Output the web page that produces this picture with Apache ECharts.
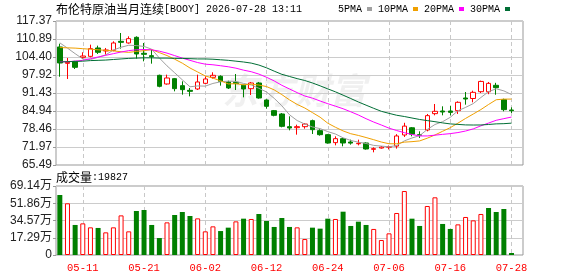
<!DOCTYPE html>
<html>
<head>
<meta charset="utf-8">
<script src="https://cdn.jsdelivr.net/npm/echarts@6/dist/echarts.min.js"></script>
<style>
html, body { margin: 0; padding: 0; background: #fff; }
#chart { width: 578px; height: 276px; }
</style>
</head>
<body>
<div id="chart"></div>
<script>
// 交易日
const dates = [
    '05-06','05-07','05-08','05-11','05-12','05-13','05-14','05-15','05-18','05-19',
    '05-20','05-21','05-22','05-25','05-26','05-27','05-28','05-29','06-01','06-02',
    '06-03','06-04','06-05','06-08','06-09','06-10','06-11','06-12','06-15','06-16',
    '06-17','06-18','06-19','06-22','06-23','06-24','06-25','06-26','06-29','06-30',
    '07-01','07-02','07-03','07-06','07-07','07-08','07-09','07-10','07-13','07-14',
    '07-15','07-16','07-17','07-20','07-21','07-22','07-23','07-24','07-27','07-28'
];
const labelDates = ['05-11','05-21','06-02','06-12','06-24','07-06','07-16','07-28'];

const opens = [
    108.01,102.12,102.84,104.28,104.64,107.65,106.57,106.81,110.05,109.45,
    111.49,105.73,104.88,97.80,94.68,96.60,94.08,92.39,92.88,94.92,
    97.08,97.44,95.40,95.28,94.20,92.99,95.04,88.91,85.07,83.87,
    79.30,78.94,79.30,81.47,77.86,76.42,73.54,74.98,73.78,73.15,
    73.42,71.14,71.60,71.90,72.30,76.30,78.90,76.42,78.10,83.99,
    84.95,84.95,85.07,89.63,89.45,91.90,91.86,94.20,89.03,85.31
];
const closes = [
    102.24,102.48,100.68,104.76,107.41,106.09,106.93,109.45,109.69,111.01,
    105.49,105.37,104.52,93.84,96.84,92.99,92.64,92.03,95.40,96.48,
    97.80,95.64,93.24,94.80,92.88,95.04,89.63,86.63,83.39,79.42,
    78.82,79.30,80.26,78.22,76.42,73.42,74.98,73.42,73.38,73.30,
    71.26,71.38,71.95,72.10,75.95,79.50,76.60,76.20,83.27,84.83,
    84.59,84.45,88.07,89.27,91.67,95.60,94.90,93.35,85.43,85.07
];
const lows = [
    97.30,96.48,100.08,103.68,104.28,105.49,105.25,106.45,107.41,109.21,
    103.80,102.84,102.00,93.48,94.44,92.03,90.83,90.23,92.51,94.68,
    96.60,94.08,92.88,92.51,89.87,90.71,89.39,85.79,83.03,79.06,
    77.98,76.42,78.58,76.66,76.06,73.18,72.58,72.22,72.82,72.58,
    71.02,70.06,71.38,71.10,71.40,75.60,75.82,75.22,77.62,83.39,
    83.39,83.39,83.87,87.23,88.07,91.43,91.00,90.80,84.83,84.23
];
const highs = [
    109.20,104.05,103.00,106.09,108.85,108.49,107.65,110.05,113.05,111.85,
    111.85,109.45,107.05,98.04,98.04,96.84,95.64,93.24,98.04,97.44,
    98.88,97.80,95.88,98.28,94.44,95.40,95.40,89.15,85.31,84.23,
    83.03,80.02,80.62,81.83,78.34,76.66,75.82,75.22,74.62,74.62,
    73.66,71.86,72.34,72.50,76.60,80.70,79.18,77.62,83.87,87.47,
    86.63,86.75,88.43,91.79,92.27,95.88,95.40,95.10,89.39,86.27
];

// 成交量
const volumes = [
    601000,518000,301000,317000,277000,271000,227000,277000,397000,237000,
    441000,451000,301000,170000,327000,401000,431000,391000,367000,237000,
    287000,240000,274000,337000,364000,361000,411000,341000,281000,371000,
    281000,277000,160000,274000,264000,364000,361000,434000,291000,334000,
    301000,261000,150000,217000,421000,641000,364000,291000,491000,578000,
    311000,261000,307000,381000,347000,411000,471000,431000,461000,19827
];

// 均线
const ma5 = [
    109.50,107.60,105.60,103.70,103.51,104.28,105.17,106.93,107.91,108.63,
    108.51,108.20,107.22,104.05,101.21,98.71,96.17,93.67,93.98,93.91,
    94.87,95.47,95.71,95.59,94.87,94.32,93.12,91.80,89.51,86.82,
    83.58,81.51,80.24,79.20,78.60,77.52,76.66,75.29,74.33,73.70,
    73.25,72.55,72.30,72.03,72.53,74.18,75.22,76.07,78.30,80.08,
    81.10,82.67,85.04,86.24,87.61,89.81,91.90,92.96,92.19,90.87
];
const ma10 = [
    107.80,107.70,107.60,107.40,107.20,107.00,106.80,106.60,106.30,106.07,
    106.40,106.69,107.07,105.98,104.92,103.61,102.18,100.44,99.01,97.56,
    96.79,95.82,94.69,94.79,94.39,94.60,94.29,93.75,92.55,90.85,
    88.95,87.32,86.02,84.36,82.71,80.55,79.09,77.77,76.76,76.14,
    75.39,74.60,73.77,73.15,73.13,73.73,73.90,74.17,75.15,76.30,
    77.64,78.94,80.56,82.27,83.85,85.46,87.29,89.00,89.22,89.24
];
const ma20 = [
    102.70,102.70,102.90,103.20,103.80,104.40,105.00,105.60,106.20,106.70,
    107.00,107.10,107.00,106.50,105.80,104.90,104.00,103.20,102.40,101.82,
    101.60,101.25,100.88,100.38,99.66,99.10,98.24,97.10,95.78,94.20,
    92.87,91.57,90.35,89.57,88.55,87.57,86.69,85.76,84.66,83.50,
    82.17,80.96,79.89,78.76,77.91,77.13,76.48,75.96,75.96,76.24,
    76.53,76.79,77.18,77.73,78.50,79.60,80.60,81.60,82.19,82.77
];
const ma30 = [
    102.60,102.70,102.80,102.90,103.10,103.20,103.30,103.50,103.70,103.90,
    104.00,104.10,104.10,104.00,104.00,103.90,103.90,103.80,103.70,103.70,
    103.60,103.40,103.20,102.90,102.60,102.20,101.50,100.50,99.30,98.16,
    97.38,96.61,95.93,95.04,94.01,92.92,91.85,90.65,89.44,88.19,
    87.05,85.91,84.83,84.10,83.41,82.96,82.42,81.89,81.49,81.10,
    80.66,80.29,80.12,79.93,79.89,79.91,80.09,80.31,80.38,80.57
];

const priceTicks = ['65.49','71.97','78.46','84.94','91.43','97.92','104.40','110.89','117.37'];
const volTicks = ['0','17.29万','34.57万','51.86万','69.14万'];

const RED = '#ff0000', GREEN = '#008000';
const priceMin = 65.49, priceMax = 117.37, priceStep = 6.485;
const volMax = 691400, volStep = 172850;

const kData = opens.map((o, i) => [o, closes[i], lows[i], highs[i]]);
const volData = volumes.map((v, i) => {
    const up = i === 0 ? closes[0] >= opens[0] : closes[i] >= closes[i - 1];
    return {
        value: v,
        itemStyle: up ? { color: '#fff', borderColor: RED, borderWidth: 1 } : { color: GREEN }
    };
});

const isLabelDay = (i) => labelDates.indexOf(dates[i]) >= 0;
const monoFont = "'Liberation Mono', monospace";
const numFont = "'Liberation Sans', 'Noto Sans CJK SC', sans-serif";
const cjkFont = "'Noto Sans CJK SC'";

const dom = document.getElementById('chart');
const myChart = echarts.init(dom, null, { renderer: 'canvas' });

function xAxisOf(gridIndex, showLabel) {
    return {
        type: 'category',
        gridIndex: gridIndex,
        data: dates,
        max: dates.length,
        boundaryGap: true,
        axisLine: { show: false },
        axisTick: { show: false },
        axisLabel: {
            show: showLabel,
            interval: (i) => isLabelDay(i),
            formatter: (v) => v || '',
            color: RED,
            fontFamily: monoFont,
            fontSize: 10.5,
            margin: 8
        },
        splitLine: {
            show: true,
            alignWithLabel: true,
            interval: (i) => isLabelDay(i),
            lineStyle: { color: '#c8c8c8', type: [4, 3], width: 1 }
        }
    };
}

function headText(text, top) {
    return {
        left: 56, top: top, padding: 0,
        text: text,
        textStyle: {
            fontWeight: 'normal',
            rich: {
                a: { fontFamily: cjkFont, fontSize: 12, fontWeight: 'normal', color: '#000' },
                b: { fontFamily: monoFont, fontSize: 10, fontWeight: 'normal', color: '#000' }
            }
        }
    };
}

myChart.setOption({
    animation: false,
    backgroundColor: '#fff',
    title: [
        headText('{a|布伦特原油当月连续}{b|[BOOY] 2026-07-28 13:11}', 3),
        headText('{a|成交量}{b|:' + volumes[volumes.length - 1] + '}', 171)
    ],
    legend: {
        left: 338, top: 4, padding: 0,
        align: 'right',
        icon: 'rect',
        itemWidth: 5, itemHeight: 4, itemGap: 6,
        selectedMode: false,
        textStyle: { fontFamily: monoFont, fontSize: 10, color: '#000' },
        data: ['5PMA', '10PMA', '20PMA', '30PMA']
    },
    graphic: [{
        type: 'text', left: 222, top: 72, z: -1, silent: true,
        style: { text: '东方财富', fontSize: 36, fontWeight: 'bold', fontStyle: 'italic',
                 fontFamily: cjkFont, fill: 'rgba(0,0,0,0.06)' }
    }],
    grid: [
        { left: 56, top: 21, width: 467, height: 144, show: true, borderColor: '#999', borderWidth: 1, outerBoundsMode: 'none' },
        { left: 56, top: 186, width: 467, height: 69, show: true, borderColor: '#999', borderWidth: 1, outerBoundsMode: 'none' }
    ],
    xAxis: [xAxisOf(0, false), xAxisOf(1, true)],
    yAxis: [{
        type: 'value', gridIndex: 0,
        min: priceMin, max: priceMax, interval: priceStep,
        axisLine: { show: false },
        axisTick: { show: true, length: 3, lineStyle: { color: '#999' } },
        axisLabel: {
            formatter: (v) => priceTicks[Math.round((v - priceMin) / priceStep)],
            color: '#222', fontFamily: numFont, fontSize: 12, margin: 4
        },
        splitLine: { lineStyle: { color: '#cccccc', width: 1 } }
    }, {
        type: 'value', gridIndex: 1,
        min: 0, max: volMax, interval: volStep,
        axisLine: { show: false },
        axisTick: { show: true, length: 3, lineStyle: { color: '#999' } },
        axisLabel: {
            formatter: (v) => volTicks[Math.round(v / volStep)],
            color: '#222', fontFamily: numFont, fontSize: 12, margin: 4
        },
        splitLine: { lineStyle: { color: '#cccccc', width: 1 } }
    }],
    series: [{
        type: 'candlestick',
        xAxisIndex: 0, yAxisIndex: 0,
        data: kData,
        barWidth: 5,
        itemStyle: {
            color: '#fff', color0: GREEN,
            borderColor: RED, borderColor0: GREEN, borderWidth: 1
        }
    },
    { name: '5PMA', data: ma5, color: '#a0a0a0' },
    { name: '10PMA', data: ma10, color: '#f0a000' },
    { name: '20PMA', data: ma20, color: '#ff00ff' },
    { name: '30PMA', data: ma30, color: '#006e35' }
    ].map(s => s.type ? s : {
        type: 'line', name: s.name, data: s.data,
        xAxisIndex: 0, yAxisIndex: 0,
        showSymbol: false, symbol: 'none',
        itemStyle: { color: s.color },
        lineStyle: { color: s.color, width: 1 }
    }).concat([{
        type: 'bar',
        xAxisIndex: 1, yAxisIndex: 1,
        data: volData,
        barWidth: 5
    }])
});
</script>
</body>
</html>
